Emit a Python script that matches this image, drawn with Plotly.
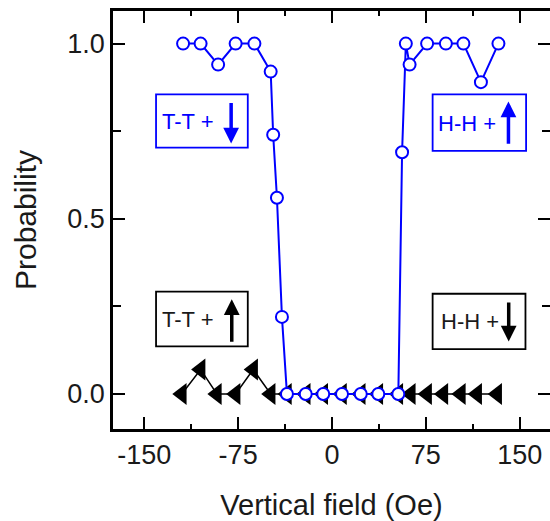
import plotly.graph_objects as go

# Data
field_blue = [-119, -105, -91, -77, -62, -49, -47, -44, -40, -36, -21, -7, 8, 23, 37, 53,
              56, 59, 62, 76, 91, 105, 119, 133]
prob_blue = [1.0, 1.0, 0.94, 1.0, 1.0, 0.92, 0.74, 0.56, 0.22, 0.0, 0.0, 0.0, 0.0, 0.0, 0.0, 0.0,
             0.69, 1.0, 0.94, 1.0, 1.0, 1.0, 0.89, 1.0]

field_black = [-120, -105, -92, -77, -63, -49, -36, -21, -7, 8, 23, 37, 53,
               63, 76, 89, 103, 116, 132]
prob_black = [0.0, 0.07, 0.0, 0.0, 0.07, 0.0, 0.0, 0.0, 0.0, 0.0, 0.0, 0.0, 0.0,
              0.0, 0.0, 0.0, 0.0, 0.0, 0.0]

x_ticks = [-150, -75, 0, 75, 150]
x_ticktext = ["-150", "-75", "0", "75", "150"]
y_ticks = [0.0, 0.5, 1.0]
y_ticktext = ["0.0", "0.5", "1.0"]

BLUE = "#0000ff"
FONT = "Liberation Sans, Arial, sans-serif"
TXT = "#1a1a1a"

fig = go.Figure()

fig.add_trace(go.Scatter(
    x=field_black, y=prob_black, mode="lines+markers",
    line=dict(color="black", width=1.5),
    marker=dict(symbol="triangle-left", size=19, color="black"),
    showlegend=False))

fig.add_trace(go.Scatter(
    x=field_blue, y=prob_blue, mode="lines+markers",
    line=dict(color=BLUE, width=2),
    marker=dict(symbol="circle", size=12, color="white",
                line=dict(color=BLUE, width=2)),
    showlegend=False))

# dummy trace to carry the right-hand tick axis
fig.add_trace(go.Scatter(x=[None], y=[None], yaxis="y2", showlegend=False,
                         hoverinfo="skip"))

# Label boxes
boxes = [
    dict(x0=-140.6, x1=-67.3, y0=0.703, y1=0.855, color=BLUE, text="T-T +",
         tx=-114.8, ty=0.777, ax=-80.6, tail=0.835, head=0.715),
    dict(x0=80.4, x1=155.1, y0=0.694, y1=0.855, color=BLUE, text="H-H +",
         tx=107.9, ty=0.772, ax=141.0, tail=0.71, head=0.835),
    dict(x0=-140.6, x1=-67.3, y0=0.136, y1=0.292, color="black", text="T-T +",
         tx=-114.8, ty=0.212, ax=-80.1, tail=0.145, head=0.27),
    dict(x0=80.4, x1=154.6, y0=0.128, y1=0.286, color="black", text="H-H +",
         tx=110.6, ty=0.207, ax=141.2, tail=0.265, head=0.15),
]
for b in boxes:
    fig.add_shape(type="rect", xref="x", yref="y", x0=b["x0"], x1=b["x1"],
                  y0=b["y0"], y1=b["y1"], line=dict(color=b["color"], width=1.8),
                  fillcolor="rgba(0,0,0,0)")
    tcol = BLUE if b["color"] == BLUE else TXT
    fig.add_annotation(x=b["tx"], y=b["ty"], xref="x", yref="y", text=b["text"],
                       showarrow=False, font=dict(family=FONT, size=22, color=tcol))
    fig.add_annotation(x=b["ax"], y=b["head"], ax=b["ax"], ay=b["tail"],
                       xref="x", yref="y", axref="x", ayref="y", text="",
                       showarrow=True, arrowhead=2, arrowsize=0.9, arrowwidth=3.5,
                       arrowcolor=b["color"], standoff=0, startstandoff=0)

axis_common = dict(
    showgrid=False, zeroline=False, showline=True, linecolor="black", linewidth=2.5,
    ticks="inside", ticklen=12, tickwidth=2, tickcolor="black",
    tickfont=dict(family=FONT, size=27, color=TXT),
)

fig.update_layout(
    width=550, height=521,
    margin=dict(l=113, r=0, t=11, b=92),
    paper_bgcolor="white", plot_bgcolor="white",
    showlegend=False,
    xaxis=dict(range=[-175, 174.2], tickvals=x_ticks, ticktext=x_ticktext,
               mirror="ticks",
               minor=dict(tickvals=[-112.5, -37.5, 37.5, 112.5], ticks="inside",
                          ticklen=5, tickwidth=2, tickcolor="black"),
               title=dict(text="Vertical field (Oe)",
                          font=dict(family=FONT, size=29, color=TXT), standoff=26),
               **axis_common),
    yaxis=dict(range=[-0.1, 1.093], tickvals=y_ticks, ticktext=y_ticktext,
               mirror=False,
               minor=dict(tickvals=[0.25, 0.75], ticks="inside",
                          ticklen=8, tickwidth=2, tickcolor="black"),
               title=dict(text="Probability",
                          font=dict(family=FONT, size=30, color=TXT), standoff=22),
               **axis_common),
    yaxis2=dict(range=[-0.1, 1.093], overlaying="y", side="right", showline=False,
                showgrid=False, zeroline=False, showticklabels=False,
                ticks="inside", ticklen=12, tickwidth=2, tickcolor="black",
                tickvals=y_ticks,
                minor=dict(tickvals=[0.25, 0.75], ticks="inside",
                           ticklen=8, tickwidth=2, tickcolor="black")),
)

fig.write_html("out.html")
